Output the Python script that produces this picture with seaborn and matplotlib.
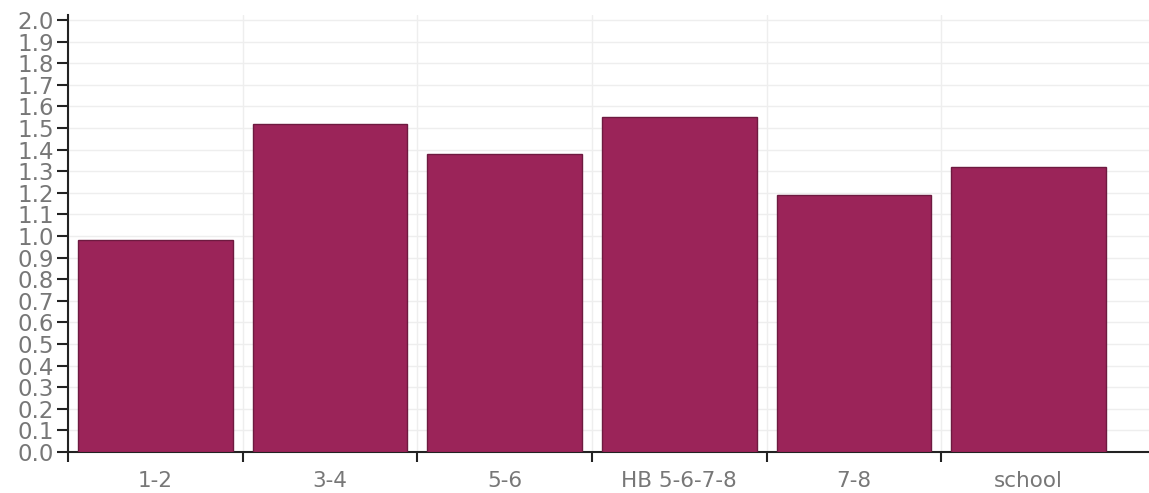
import numpy as np
import pandas as pd
import matplotlib
matplotlib.use("Agg")
import matplotlib.pyplot as plt
import seaborn as sns

groups = ["1-2", "3-4", "5-6", "HB 5-6-7-8", "7-8", "school"]
scores = [0.98, 1.52, 1.38, 1.55, 1.19, 1.32]

df = pd.DataFrame({"group": groups, "score": scores})

sns.set_style("white")
plt.rcParams["font.family"] = ["DejaVu Sans"]

fig = plt.figure(figsize=(11.49, 4.93), dpi=100)
ax = fig.add_axes([68 / 1149, 41 / 493, 1 - 68 / 1149, 437 / 493])

sns.barplot(data=df, x="group", y="score", color="#9b2459", saturation=1,
            width=0.885, edgecolor="#6e1a40", linewidth=1, ax=ax, zorder=3)

ax.set_xlim(-0.5, 5.69)
ax.set_ylim(0, 2.023)

# y ticks every 0.1
yt = np.round(np.arange(0, 2.01, 0.1), 1)
ax.set_yticks(yt)
ax.set_yticklabels([f"{v:.1f}" for v in yt])

# category boundaries as minor ticks, labels at centres
ax.set_xticks(range(len(groups)))
ax.set_xticklabels(groups)
ax.set_xticks(np.arange(-0.5, 5.0, 1.0), minor=True)

ax.tick_params(axis="y", which="major", direction="out", length=8, width=1.5,
               color="#222222", labelsize=16.5, labelcolor="#777777", pad=2,
               left=True)
ax.tick_params(axis="x", which="major", length=0, labelsize=15.5,
               labelcolor="#777777", pad=14)
ax.tick_params(axis="x", which="minor", direction="out", length=7, width=1.5,
               color="#222222", bottom=True)

ax.grid(axis="y", which="major", color="#eeeeee", linewidth=1, zorder=0)
ax.grid(axis="x", which="minor", color="#eeeeee", linewidth=1, zorder=0)
ax.grid(axis="x", which="major", visible=False)

for s in ["top", "right"]:
    ax.spines[s].set_visible(False)
for s in ["left", "bottom"]:
    ax.spines[s].set_color("#222222")
    ax.spines[s].set_linewidth(1.5)

ax.set_xlabel(None)
ax.set_ylabel(None)

fig.savefig("out.png", dpi=100)
